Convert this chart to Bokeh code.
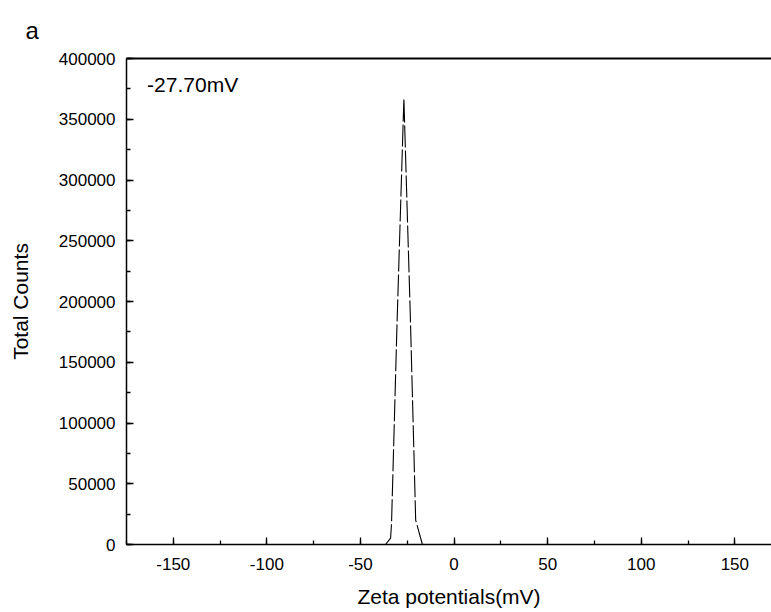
from bokeh.plotting import figure
from bokeh.models import (LinearAxis, Label, Range1d, SingleIntervalTicker,
                          NumeralTickFormatter, ColumnDataSource, Title)
from bokeh.embed import file_html
from bokeh.resources import INLINE

# Data
zeta_mv = [-36.6, -33.9, -33.4, -30.5, -26.8, -23.4, -20.5, -16.9]
total_counts = [0, 5200, 17500, 180000, 367100, 190000, 20000, 0]
peak_label = "-27.70mV"
panel_label = "a"
x_title = "Zeta potentials(mV)"
y_title = "Total Counts"

FONT = "Liberation Sans"

p = figure(width=771, height=612,
           x_range=Range1d(-175, 169.6), y_range=Range1d(0, 400000),
           output_backend="svg", toolbar_location=None,
           min_border_left=126, min_border_right=0,
           min_border_top=58, min_border_bottom=68,
           background_fill_color="white", border_fill_color="white")
p.outline_line_color = None
p.grid.visible = False

src = ColumnDataSource(dict(x=zeta_mv, y=total_counts))
p.line("x", "y", source=src, line_color="black", line_width=1.1,
       line_dash="22 3")

def style_axis(ax):
    ax.axis_line_color = "black"
    ax.axis_line_width = 1.5
    ax.major_tick_line_color = "black"
    ax.minor_tick_line_color = "black"
    ax.major_tick_line_width = 1.3
    ax.minor_tick_line_width = 1.3
    ax.major_tick_in = 7
    ax.major_tick_out = 0
    ax.minor_tick_in = 4
    ax.minor_tick_out = 0
    ax.major_label_text_font = FONT
    ax.major_label_text_font_size = "17px"
    ax.major_label_text_color = "black"
    ax.axis_label_text_font = FONT
    ax.axis_label_text_font_size = "21px"
    ax.axis_label_text_font_style = "normal"
    ax.axis_label_text_color = "black"

xa = p.xaxis[0]
xa.ticker = SingleIntervalTicker(interval=50, num_minor_ticks=2)
xa.formatter = NumeralTickFormatter(format="0")
style_axis(xa)
xa.axis_label = x_title
xa.major_label_standoff = 13
xa.axis_label_standoff = 12

ya = p.yaxis[0]
ya.ticker = SingleIntervalTicker(interval=50000, num_minor_ticks=2)
ya.formatter = NumeralTickFormatter(format="0")
style_axis(ya)
ya.axis_label = y_title
ya.major_label_standoff = 11
ya.axis_label_standoff = 24

top = LinearAxis(ticker=SingleIntervalTicker(interval=50, num_minor_ticks=2))
top.axis_line_color = "black"
top.axis_line_width = 2
top.major_tick_line_color = None
top.minor_tick_line_color = None
top.major_label_text_color = None
top.major_label_text_font_size = "0px"
p.add_layout(top, "above")

t = Title(text=panel_label, align="left", offset=-101, standoff=18,
          text_font=FONT, text_font_size="24px", text_font_style="normal",
          text_color="black")
p.add_layout(t, "above")

p.add_layout(Label(x=-164, y=379000, text=peak_label, text_font=FONT,
                   text_font_size="21px", text_color="black",
                   text_baseline="middle", text_align="left"))

open("out.html", "w").write(file_html(p, INLINE))
